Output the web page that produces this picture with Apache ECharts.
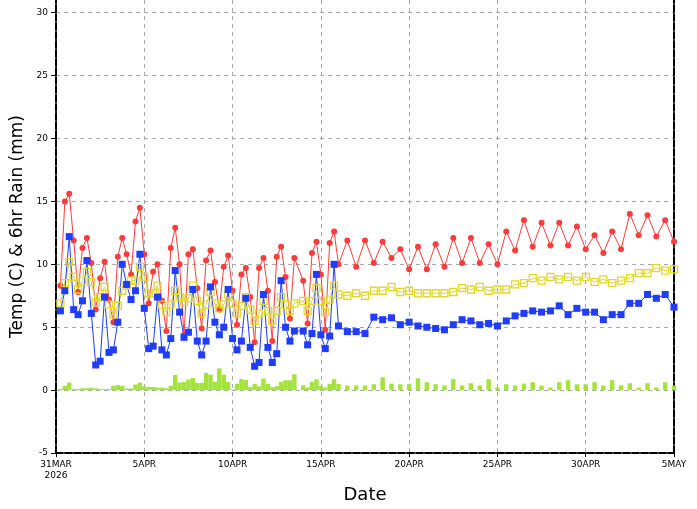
<!DOCTYPE html>
<html>
<head>
<meta charset="utf-8">
<script src="https://cdn.jsdelivr.net/npm/echarts@6/dist/echarts.min.js"></script>
<style>
html, body { margin: 0; padding: 0; background: #fff; }
#main { width: 697px; height: 509px; }
</style>
</head>
<body>
<div id="main"></div>
<script>
// x labels, one every 5 days from 31 MAR 2026 (day 0)
const dayLabels = ['31MAR\n2026', '5APR', '10APR', '15APR', '20APR', '25APR', '30APR', '5MAY'];
const yTitle = 'Temp (C) & 6hr Rain (mm)';

// 6-hourly part: 31MAR 06Z .. 16APR 00Z (13APR 18Z missing)
const red6 = [8.3, 15.0, 15.6, 11.9, 7.8, 11.3, 12.1, 10.1, 6.4, 8.9,
  10.2, 7.2, 5.4, 10.6, 12.1, 10.8, 9.2, 13.4, 14.5, 10.8,
  6.9, 9.4, 10.0, 7.1, 4.7, 11.3, 12.9, 10.0, 4.4, 10.8,
  11.2, 8.1, 4.9, 10.3, 11.1, 8.6, 6.4, 9.8, 10.7, 7.9,
  5.2, 9.2, 9.7, 7.4, 3.8, 9.7, 10.5, 7.9, 3.9, 10.6,
  11.4, 9.0, 5.7, 10.5, null, 8.7, 5.3, 10.9, 11.8, 9.2,
  4.8, 11.7, 12.6, 10.0];
const yellow6 = [6.9, 8.5, 10.2, 9.0, 8.0, 8.7, 9.4, 8.6, 7.0, 7.4,
  8.2, 6.8, 6.0, 6.7, 7.9, 8.3, 8.7, 8.7, 9.8, 9.0,
  7.7, 7.7, 8.3, 6.8, 6.2, 6.8, 7.9, 7.4, 7.0, 7.3,
  8.3, 7.1, 6.1, 6.8, 7.8, 6.9, 6.5, 6.8, 7.6, 6.9,
  6.1, 6.7, 7.4, 6.4, 5.5, 6.1, 7.1, 6.3, 5.5, 6.3,
  7.4, 6.8, 6.3, 6.9, null, 7.1, 6.3, 7.1, 8.1, 7.1,
  6.2, 7.2, 8.3, 7.6];
const blue6 = [6.3, 7.9, 12.2, 6.4, 6.0, 7.1, 10.3, 6.1, 2.0, 2.3,
  7.4, 3.0, 3.2, 5.4, 10.0, 8.4, 7.2, 7.9, 10.8, 6.5,
  3.3, 3.5, 7.4, 3.2, 2.8, 4.1, 9.5, 6.2, 4.2, 4.6,
  8.0, 3.9, 2.8, 3.9, 8.2, 5.4, 4.4, 5.0, 8.0, 4.1,
  3.2, 3.9, 7.3, 3.4, 1.9, 2.2, 7.6, 3.4, 2.2, 2.9,
  8.7, 5.0, 3.9, 4.7, null, 4.7, 3.6, 4.5, 9.2, 4.4,
  3.3, 4.3, 10.0, 5.1];
const rain6 = [0.1, 0.35, 0.6, 0.1, 0.1, 0.15, 0.15, 0.2, 0.15, 0.08,
  0.08, 0.08, 0.35, 0.4, 0.35, 0.13, 0.13, 0.45, 0.6, 0.3,
  0.25, 0.25, 0.2, 0.2, 0.15, 0.35, 1.2, 0.6, 0.65, 0.84,
  0.97, 0.58, 0.58, 1.36, 1.23, 0.66, 1.73, 1.23, 0.66, 0.05,
  0.5, 0.89, 0.81, 0.24, 0.5, 0.31, 0.92, 0.5, 0.24, 0.31,
  0.66, 0.79, 0.79, 1.26, null, 0.39, 0.21, 0.66, 0.87, 0.34,
  0.21, 0.5, 0.87, 0.5];

// 12-hourly part: 16APR 12Z .. 5MAY 00Z
const red12 = [11.9, 9.8, 11.9, 10.1, 11.8, 10.5, 11.2, 9.6, 11.4, 9.6,
  11.6, 9.8, 12.1, 10.1, 12.1, 10.1, 11.6, 10.0, 12.6, 11.1,
  13.5, 11.4, 13.3, 11.5, 13.3, 11.5, 13.0, 11.2, 12.3, 10.9,
  12.6, 11.2, 14.0, 12.3, 13.9, 12.2, 13.5, 11.8];
const yellow12 = [7.5, 7.7, 7.5, 7.9, 7.9, 8.2, 7.8, 7.9, 7.7, 7.7,
  7.7, 7.7, 7.8, 8.1, 8.0, 8.2, 7.9, 8.0, 8.0, 8.4,
  8.5, 8.9, 8.7, 9.0, 8.8, 9.0, 8.7, 9.0, 8.6, 8.8,
  8.5, 8.7, 8.9, 9.3, 9.3, 9.7, 9.5, 9.6];
const blue12 = [4.65, 4.65, 4.5, 5.8, 5.6, 5.75, 5.2, 5.4, 5.1, 5.0,
  4.9, 4.8, 5.2, 5.6, 5.5, 5.2, 5.3, 5.1, 5.5, 5.9,
  6.1, 6.3, 6.2, 6.3, 6.7, 6.0, 6.5, 6.2, 6.2, 5.6,
  6.0, 6.0, 6.9, 6.9, 7.6, 7.3, 7.6, 6.6];
const rain12 = [0.37, 0.37, 0.37, 0.47, 1.02, 0.52, 0.47, 0.47, 0.94, 0.63,
  0.47, 0.37, 0.87, 0.37, 0.55, 0.37, 0.87, 0.21, 0.47, 0.37,
  0.52, 0.63, 0.37, 0.21, 0.63, 0.79, 0.47, 0.47, 0.63, 0.37,
  0.79, 0.37, 0.55, 0.21, 0.55, 0.21, 0.63, 0.37];

// Pair values with their time (days after 31MAR 00Z), drop missing ones:
function pairUp(six, twelve){
    let out = [];
    for (let i = 0; i < six.length; i++){
        if (six[i] != null) out.push([(i + 1) * 0.25, six[i]]);
    }
    for (let k = 0; k < twelve.length; k++){
        if (twelve[k] != null) out.push([16.5 + k * 0.5, twelve[k]]);
    }
    return out;
}

const font = 'DejaVu Sans';
const gridGrey = '#a9a9a9';
const frame = { color: '#000', width: 2, type: [7, 2] };

var chartDom = document.getElementById('main');
var myChart = echarts.init(chartDom);
var option = {
    animation: false,
    backgroundColor: '#fff',
    grid: { left: 56, right: 23, top: 0, bottom: 52 },
    xAxis: {
        type: 'value', min: 0, max: 35, interval: 5,
        name: 'Date', nameLocation: 'middle', nameGap: 25,
        nameTextStyle: { fontFamily: font, fontSize: 18, color: '#000' },
        axisLine: { show: true, onZero: false, lineStyle: frame },
        axisTick: { show: true, length: 4, lineStyle: { color: '#000' } },
        axisLabel: {
            fontFamily: font, fontSize: 9, color: '#000', margin: 6, lineHeight: 11,
            formatter: v => dayLabels[Math.round(v / 5)] || ''
        },
        splitLine: { show: true, lineStyle: { color: gridGrey, type: [4, 4], width: 1 } }
    },
    yAxis: [{
        type: 'value', min: -5, max: 31, interval: 5,
        name: yTitle, nameLocation: 'middle', nameGap: 29, nameRotate: 90,
        nameTextStyle: { fontFamily: font, fontSize: 17, color: '#000' },
        axisLine: { show: true, onZero: false, lineStyle: frame },
        axisTick: { show: true, length: 5, lineStyle: { color: '#000' },
            customValues: [-5, 0, 5, 10, 15, 20, 25, 30] },
        axisLabel: { fontFamily: font, fontSize: 9, color: '#000', margin: 8,
            customValues: [-5, 0, 5, 10, 15, 20, 25, 30],
            formatter: v => (v > 30 ? '' : String(v)) },
        splitLine: { show: true, lineStyle: {
            color: [gridGrey, gridGrey, gridGrey, gridGrey, gridGrey, gridGrey, gridGrey, gridGrey, 'transparent'],
            type: [4, 4], width: 1 } }
    }, {
        type: 'value', min: -5, max: 31, position: 'right',
        axisLine: { show: true, onZero: false, lineStyle: frame },
        axisTick: { show: false }, axisLabel: { show: false }, splitLine: { show: false }
    }],
    series: [{
        type: 'bar', name: 'rain',
        data: pairUp(rain6, rain12),
        barWidth: 4.4,
        itemStyle: { color: '#a3e33a' }
    }, {
        type: 'line', name: 'red',
        data: pairUp(red6, red12),
        symbol: 'circle', symbolSize: 6, showAllSymbol: true,
        lineStyle: { color: '#ff3c3c', width: 1 },
        itemStyle: { color: '#ff3c3c' }
    }, {
        type: 'line', name: 'yellow',
        data: pairUp(yellow6, yellow12),
        symbol: 'rect', symbolSize: 7, showAllSymbol: true,
        lineStyle: { color: '#e2d82c', width: 1 },
        itemStyle: { color: 'rgba(255,255,255,0)', borderColor: '#e2d82c', borderWidth: 1.3 }
    }, {
        type: 'line', name: 'blue',
        data: pairUp(blue6, blue12),
        symbol: 'rect', symbolSize: 7, showAllSymbol: true,
        lineStyle: { color: '#1f3cff', width: 1 },
        itemStyle: { color: '#1f3cff' }
    }]
};
option && myChart.setOption(option);
</script>
</body>
</html>
